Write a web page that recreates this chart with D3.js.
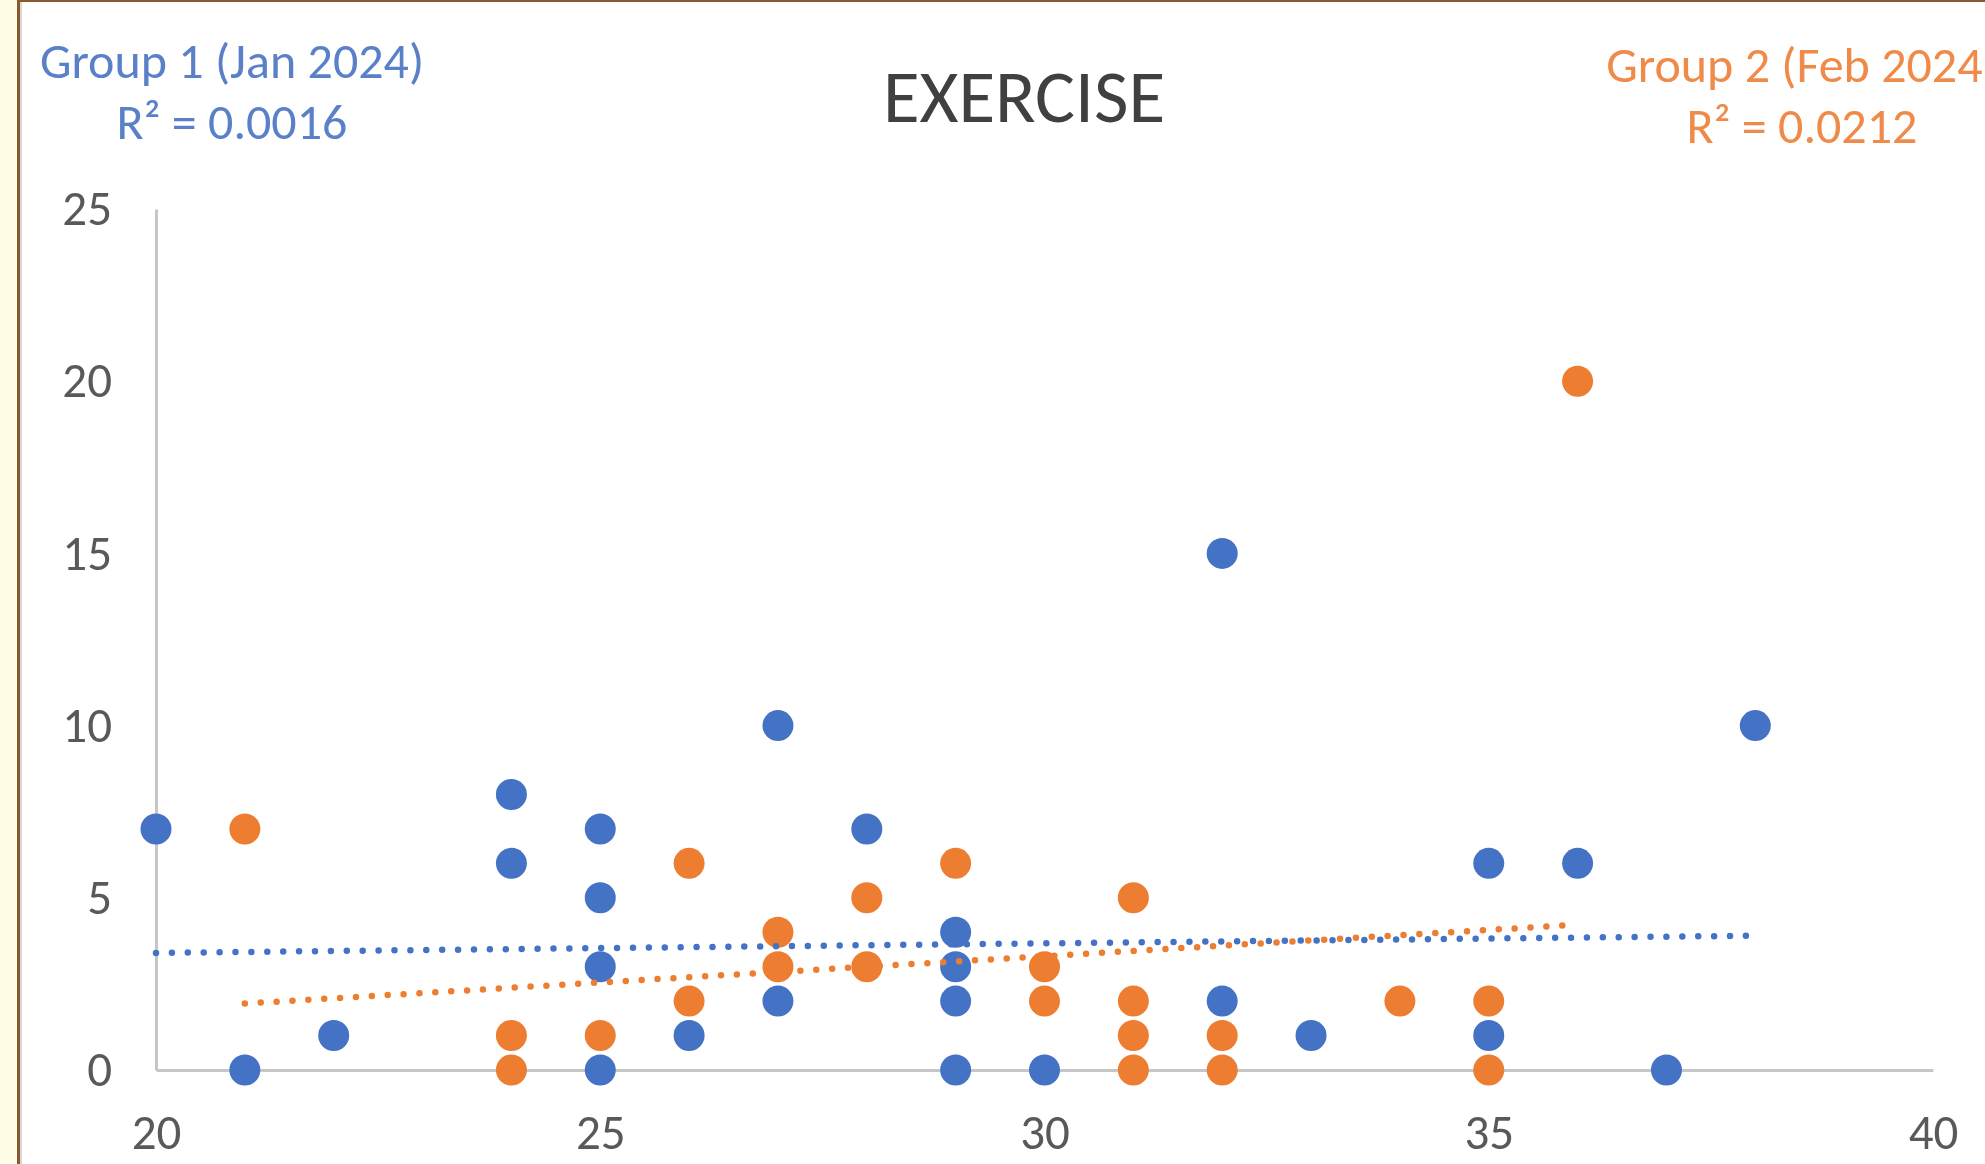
<!DOCTYPE html>
<html><head><meta charset="utf-8">
<script src="https://cdn.jsdelivr.net/npm/d3@7"></script>
<style>
html,body{margin:0;padding:0;background:#fff;overflow:hidden}
svg{display:block}
</style></head><body>
<svg id="chart" width="1985" height="1164"></svg>
<script>
// ---- data ----
const xTicks = [20, 25, 30, 35, 40];
const yTicks = [0, 5, 10, 15, 20, 25];

const group1Name = "Group 1 (Jan 2024)";
const group1R2 = "R\u00B2 = 0.0016";
const group1X = [20,21,22,24,24,25,25,25,25,26,27,27,28,29,29,29,29,30,32,32,33,35,35,36,37,38];
const group1Y = [ 7, 0, 1, 8, 6, 7, 5, 3, 0, 1,10, 2, 7, 4, 3, 2, 0, 0,15, 2, 1, 6, 1, 6, 0,10];
const trend1X = [20, 38];
const trend1Y = [3.40, 3.90];

const group2Name = "Group 2 (Feb 2024)";
const group2R2 = "R\u00B2 = 0.0212";
const group2X = [21,24,24,25,26,26,27,27,28,28,29,30,30,31,31,31,31,32,32,34,35,35,36];
const group2Y = [ 7, 1, 0, 1, 6, 2, 4, 3, 5, 3, 6, 3, 2, 5, 2, 1, 0, 1, 0, 2, 2, 0,20];
const trend2X = [21, 36];
const trend2Y = [1.93, 4.22];

const title = "EXERCISE";

// ---- drawing ----
const W = 1985, H = 1164;
const blue = "#4472C4", orange = "#ED7D31";
const font = "Carlito, Calibri, Lato, 'Open Sans', sans-serif";
const svg = d3.select("#chart");

// frame: yellow strip + brown border
svg.append("rect").attr("x",0).attr("y",0).attr("width",W).attr("height",H).attr("fill","#fff");
svg.append("rect").attr("x",0).attr("y",0).attr("width",17).attr("height",H).attr("fill","#FFFDE6");
svg.append("rect").attr("x",17).attr("y",0).attr("width",3).attr("height",H).attr("fill","#8A5A2E");
svg.append("rect").attr("x",20).attr("y",0).attr("width",2).attr("height",H).attr("fill","#D8D8D8");
svg.append("rect").attr("x",17).attr("y",0).attr("width",W-17).attr("height",2).attr("fill","#8A5A2E");

const x = d3.scaleLinear().domain([20, 40]).range([156, 1933]);
const y = d3.scaleLinear().domain([0, 25]).range([1070, 209]);

// axes
const xAxis = svg.append("g").attr("transform", `translate(0,${y(0)})`)
  .call(d3.axisBottom(x).tickValues(xTicks).tickSize(0).tickPadding(63));
const yAxis = svg.append("g").attr("transform", `translate(${x(20)},0)`)
  .call(d3.axisLeft(y).tickValues(yTicks).tickSize(0).tickPadding(44));
[xAxis, yAxis].forEach(g => {
  g.select(".domain").attr("stroke", "#C6C6C6").attr("stroke-width", 3);
  g.selectAll("text").attr("fill", "#595959").style("font-family", font).style("font-size", "49px");
});
xAxis.selectAll("text").attr("dy", "0.32em");

// points
function drawPoints(xs, ys, color) {
  svg.append("g").selectAll("circle")
    .data(xs.map((v, i) => [v, ys[i]]))
    .join("circle")
    .attr("cx", d => x(d[0])).attr("cy", d => y(d[1]))
    .attr("r", 15.5).attr("fill", color);
}
drawPoints(group1X, group1Y, blue);
drawPoints(group2X, group2Y, orange);

// trendlines (dotted)
function drawTrend(xs, ys, color) {
  svg.append("path")
    .datum(xs.map((v, i) => [v, ys[i]]))
    .attr("d", d3.line().x(d => x(d[0])).y(d => y(d[1])))
    .attr("fill", "none").attr("stroke", color)
    .attr("stroke-width", 6.5).attr("stroke-linecap", "round")
    .attr("stroke-dasharray", "0 15.9");
}
drawTrend(trend1X, trend1Y, blue);
drawTrend(trend2X, trend2Y, orange);

// title
svg.append("text").attr("x", 1024).attr("y", 122).attr("text-anchor", "middle")
  .attr("fill", "#404040").style("font-family", font).style("font-size", "75px").text(title);

// group labels
function groupLabel(cx, y1, y2, name, r2, color) {
  const g = svg.append("g").attr("fill", color).style("font-family", font).style("font-size", "50px");
  g.append("text").attr("x", cx).attr("y", y1).attr("text-anchor", "middle").text(name);
  g.append("text").attr("x", cx).attr("y", y2).attr("text-anchor", "middle").text(r2);
}
groupLabel(232, 78, 139, group1Name, group1R2, "#5A80C8");
groupLabel(1802, 82, 143, group2Name, group2R2, "#EF8A48");
</script>
</body></html>
